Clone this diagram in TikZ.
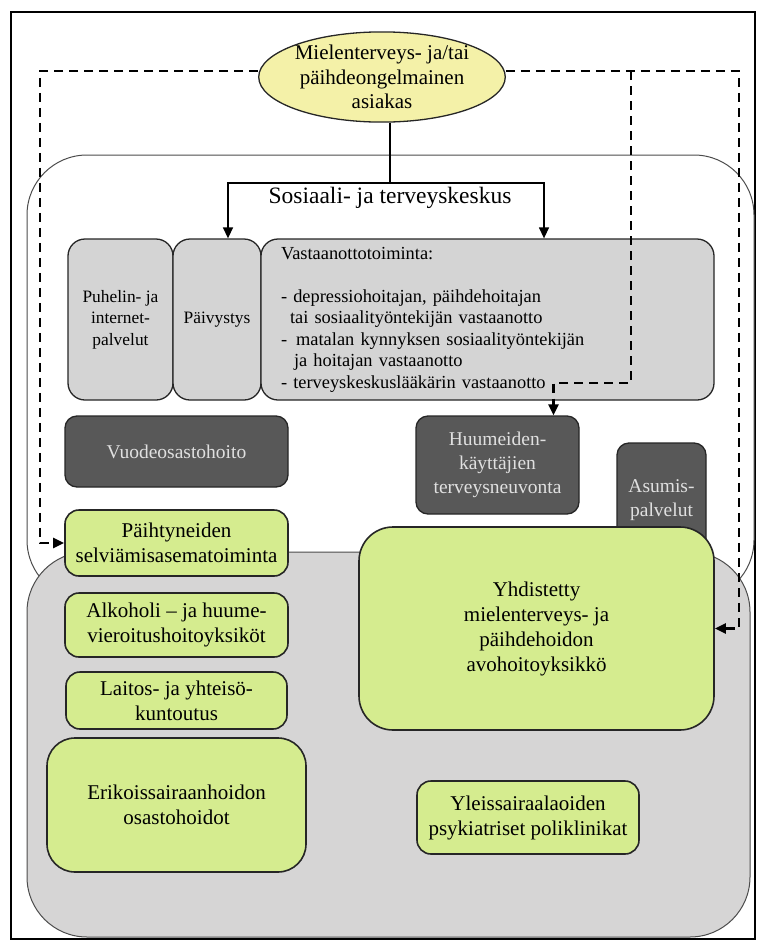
\documentclass[tikz,border=0pt]{standalone}
\usepackage{fontspec}
\setmainfont{Liberation Serif}
\usetikzlibrary{arrows.meta}
\usetikzlibrary{shapes.geometric}

\definecolor{vihrea}{RGB}{213,236,143}
\definecolor{keltainen}{RGB}{244,241,168}
\definecolor{vaalea}{RGB}{212,212,212}
\definecolor{pohja}{RGB}{214,213,213}
\definecolor{tummanharmaa}{RGB}{88,88,88}

\begin{document}
\begin{tikzpicture}[x=1pt,y=-1pt,>={Triangle[length=11pt,width=10pt]},
	laatikko/.style={draw=black!85,line width=1.3pt,inner sep=0pt,align=center},
	harmaa/.style={laatikko,rounded corners=17pt,fill=vaalea,font=\fontsize{17.4}{21.5}\selectfont},
	tumma/.style={laatikko,rounded corners=12pt,fill=tummanharmaa,text=white!88!black,font=\fontsize{19.5}{24}\selectfont},
	vihrealaatikko/.style={laatikko,rounded corners=14pt,fill=vihrea,line width=1.6pt,font=\fontsize{21}{25}\selectfont},
	katko/.style={line width=2.5pt,dash pattern=on 9pt off 6pt},
	yhteys/.style={line width=1.4pt}]
		\useasboundingbox (0,0) rectangle (756,940);
		\draw[line width=1.8pt] (11,12) rectangle (755,939);
		\draw[gray!60!black,line width=1pt,fill=white,rounded corners=60pt] (27,155) rectangle (754,600);
		\draw[gray!60!black,line width=1pt,fill=pohja,rounded corners=60pt] (27,552) rectangle (750,937);
		
		\node[ellipse,draw=black!85,line width=1.3pt,fill=keltainen,minimum width=242pt,minimum height=86pt,inner sep=0pt,align=center,font=\fontsize{21}{24.5}\selectfont] (asiakas) at (382,77) {Mielenterveys- ja/tai\\päihdeongelmainen\\asiakas};
		\node[font=\fontsize{23.5}{28}\selectfont] (sotekeskus) at (390,198) {Sosiaali- ja terveyskeskus};
		
		\node[harmaa,minimum width=105pt,minimum height=161pt] (puhelin) at (120.5,319.5) {Puhelin- ja\\internet-\\palvelut};
		\node[harmaa,minimum width=88pt,minimum height=161pt] (paivystys) at (217,319.5) {Päivystys};
		\node[harmaa,font=\fontsize{18.4}{21.5}\selectfont,minimum width=453pt,minimum height=161pt,text width=413pt,inner xsep=20pt,align=left] (vastaanotto) at (487.5,319.5) {Vastaanottotoiminta:\\\mbox{}\\- depressiohoitajan, päihdehoitajan\\\hspace*{9pt}tai sosiaalityöntekijän vastaanotto\\-\hspace*{9pt}matalan kynnyksen sosiaalityöntekijän\\\hspace*{13pt}ja hoitajan vastaanotto\\- terveyskeskuslääkärin vastaanotto};
		
		\node[tumma,minimum width=223pt,minimum height=71pt] (vuodeosasto) at (176.5,451.5) {Vuodeosastohoito};
		\node[tumma,minimum width=163pt,minimum height=98pt] (huumeet) at (497.5,465) {Huumeiden-\\käyttäjien\\terveysneuvonta};
		\node[tumma,minimum width=89pt,minimum height=114pt] (asumis) at (661.5,500) {Asumis-\\palvelut};
		
		\node[vihrealaatikko,minimum width=223pt,minimum height=66pt] (paihtyneet) at (176.5,543) {Päihtyneiden\\selviämisasematoiminta};
		\node[vihrealaatikko,minimum width=223pt,minimum height=64pt] (vieroitus) at (176.5,625) {Alkoholi -- ja huume-\\vieroitushoitoyksiköt};
		\node[vihrealaatikko,minimum width=221pt,minimum height=57pt] (kuntoutus) at (176.5,700.5) {Laitos- ja yhteisö-\\kuntoutus};
		\node[vihrealaatikko,rounded corners=28pt,minimum width=259pt,minimum height=134pt] (osastohoito) at (176.5,805) {Erikoissairaanhoidon\\osastohoidot};
		\node[vihrealaatikko,rounded corners=34pt,minimum width=355pt,minimum height=203pt] (yhdistetty) at (536.5,628.5) {Yhdistetty\\mielenterveys- ja\\päihdehoidon\\avohoitoyksikkö};
		\node[vihrealaatikko,minimum width=222pt,minimum height=73pt] (poliklinikat) at (528,817.5) {Yleissairaalaoiden\\psykiatriset poliklinikat};
		
		\coordinate (haara) at (390,183);
		\draw[yhteys] (asiakas.south -| haara) -- (haara);
		\draw[yhteys,->] (haara) -| ([xshift=11pt]paivystys.north);
		\draw[yhteys,->] (haara) -| ([xshift=56.5pt]vastaanotto.north);
		
		\coordinate (vasen) at (40,71);
		\coordinate (oikea) at (739,71);
		\coordinate (jako) at (631,71);
		\coordinate (mutka) at (631,383);
		\draw[katko,->] (asiakas.west |- vasen) -- (vasen) |- (paihtyneet.west);
		\draw[katko,->] (asiakas.east |- oikea) -- (oikea) |- (yhdistetty.east);
		\draw[katko,->] (jako) -- (mutka) -| ([xshift=56pt]huumeet.north);
		
\end{tikzpicture}
\end{document}
